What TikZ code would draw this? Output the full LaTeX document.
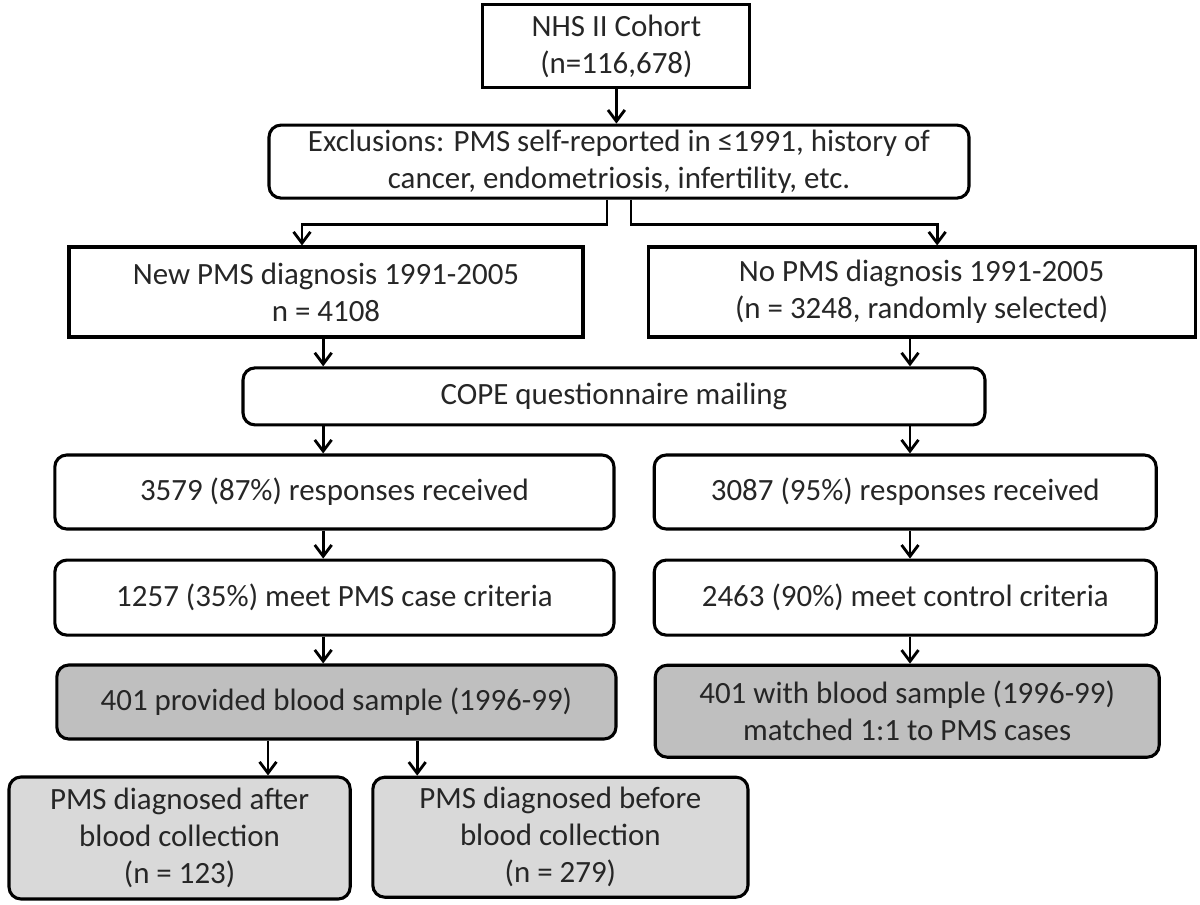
\documentclass[tikz,border=0pt]{standalone}
\usepackage{fontspec}
\setmainfont{Carlito}
\usetikzlibrary{arrows.meta}

\begin{document}
\begin{tikzpicture}[
                squarebox/.style={
                    draw, line width=2.2pt, align=center, text=black!85,
                    font=\fontsize{22}{26.3}\selectfont, inner sep=0pt
                },
                roundbox/.style={
                    squarebox, rounded corners=0.3cm
                },
                darkbox/.style={
                    roundbox, fill=black!25
                },
                lightbox/.style={
                    roundbox, fill=black!15
                },
                arr/.style={
                    line width=2pt, -{Straight Barb[length=8pt,width=12pt,line width=2pt]}
                }
            ]
            \useasboundingbox (0,0) rectangle (30,-22.6);
            \coordinate (colL) at (8.08,0);
            \coordinate (colR) at (22.75,0);

            \node[squarebox, minimum width=6.675cm, minimum height=2.075cm] (nhs) at (15.41,-1.16) {NHS II Cohort\\(n=116,678)};
            \node[roundbox, minimum width=17.5cm, minimum height=1.825cm] (excl) at (15.475,-4.04) {Exclusions: PMS self-reported in ≤1991, history of\\cancer, endometriosis, infertility, etc.};
            \node[squarebox, minimum width=12.85cm, minimum height=2.25cm] (newpms) at (8.15,-7.3) {New PMS diagnosis 1991-2005\\n = 4108};
            \node[squarebox, minimum width=13.675cm, minimum height=2.25cm] (nopms) at (23.04,-7.3) {No PMS diagnosis 1991-2005\\(n = 3248, randomly selected)};
            \node[roundbox, minimum width=18.55cm, minimum height=1.425cm] (cope) at (15.35,-9.91) {COPE questionnaire mailing};
            \node[roundbox, minimum width=13.98cm, minimum height=1.85cm] (resp1) at (8.36,-12.3) {3579 (87\%) responses received};
            \node[roundbox, minimum width=12.55cm, minimum height=1.85cm] (resp2) at (22.63,-12.3) {3087 (95\%) responses received};
            \node[roundbox, minimum width=13.98cm, minimum height=1.875cm] (crit1) at (8.36,-14.94) {1257 (35\%) meet PMS case criteria};
            \node[roundbox, minimum width=12.55cm, minimum height=1.875cm] (crit2) at (22.63,-14.94) {2463 (90\%) meet control criteria};
            \node[darkbox, minimum width=13.98cm, minimum height=1.85cm] (blood1) at (8.41,-17.55) {401 provided blood sample (1996-99)};
            \node[darkbox, minimum width=12.6cm, minimum height=2.3cm] (blood2) at (22.68,-17.78) {401 with blood sample (1996-99)\\matched 1:1 to PMS cases};
            \node[lightbox, minimum width=8.53cm, minimum height=3.05cm] (after) at (4.49,-20.95) {PMS diagnosed after\\blood collection\\(n = 123)};
            \node[lightbox, minimum width=9.38cm, minimum height=3.0cm] (before) at (14.01,-20.93) {PMS diagnosed before\\blood collection\\(n = 279)};

            % arrows
            \draw[arr] (nhs.south) -- (nhs.south |- excl.north);
            \draw[arr] ([xshift=-0.3cm]excl.south) -- ++(0,-0.625) -| ([xshift=-0.6cm]newpms.north);
            \draw[arr] ([xshift=0.3cm]excl.south) -- ++(0,-0.625) -| ([xshift=0.39cm]nopms.north);
            \draw[arr] (newpms.south -| colL) -- (cope.north -| colL);
            \draw[arr] (nopms.south -| colR) -- (cope.north -| colR);
            \draw[arr] (cope.south -| colL) -- (resp1.north -| colL);
            \draw[arr] (cope.south -| colR) -- (resp2.north -| colR);
            \draw[arr] (resp1.south -| colL) -- (crit1.north -| colL);
            \draw[arr] (resp2.south -| colR) -- (crit2.north -| colR);
            \draw[arr] (crit1.south -| colL) -- (blood1.north -| colL);
            \draw[arr] (crit2.south -| colR) -- (blood2.north -| colR);
            \draw[arr] ([xshift=-1.71cm]blood1.south) -- ([xshift=-1.71cm]blood1.south |- after.north);
            \draw[arr] ([xshift=2.02cm]blood1.south) -- ([xshift=2.02cm]blood1.south |- before.north);
\end{tikzpicture}
\end{document}
